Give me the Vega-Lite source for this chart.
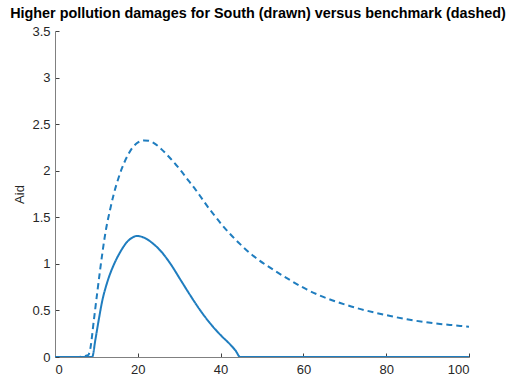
{
  "$schema": "https://vega.github.io/schema/vega-lite/v6.json",
  "autosize": "none",
  "width": 414,
  "height": 326,
  "padding": {"left": 55, "top": 31, "right": 55, "bottom": 24},
  "background": "white",
  "title": {
    "text": "Higher pollution damages for South (drawn) versus benchmark (dashed)",
    "font": "Liberation Sans",
    "fontSize": 14.4,
    "fontWeight": "bold",
    "color": "#000000",
    "anchor": "middle",
    "dx": -4,
    "offset": 4
  },
  "config": {
    "view": {"stroke": null},
    "axis": {
      "grid": false,
      "labelFont": "Liberation Sans",
      "labelFontSize": 13,
      "labelColor": "#262626",
      "titleFont": "Liberation Sans",
      "titleFontSize": 13,
      "titleFontWeight": "normal",
      "titleColor": "#262626",
      "domainColor": "#808080",
      "domainWidth": 1,
      "tickColor": "#404040",
      "tickSize": -4,
      "tickWidth": 1
    }
  },
  "data": {
    "values": [
      {"t": 0, "aid": 0, "series": "South"},
      {"t": 8.97, "aid": 0, "series": "South"},
      {"t": 9.77, "aid": 0.19, "series": "South"},
      {"t": 10.57, "aid": 0.4, "series": "South"},
      {"t": 11.4, "aid": 0.6, "series": "South"},
      {"t": 12.6, "aid": 0.8, "series": "South"},
      {"t": 14.2, "aid": 0.99, "series": "South"},
      {"t": 15.8, "aid": 1.13, "series": "South"},
      {"t": 17.4, "aid": 1.235, "series": "South"},
      {"t": 18.6, "aid": 1.28, "series": "South"},
      {"t": 19.8, "aid": 1.3, "series": "South"},
      {"t": 21, "aid": 1.29, "series": "South"},
      {"t": 22.2, "aid": 1.265, "series": "South"},
      {"t": 23.6, "aid": 1.22, "series": "South"},
      {"t": 25.5, "aid": 1.14, "series": "South"},
      {"t": 27.9, "aid": 1.0, "series": "South"},
      {"t": 30.3, "aid": 0.83, "series": "South"},
      {"t": 32.7, "aid": 0.66, "series": "South"},
      {"t": 35.1, "aid": 0.5, "series": "South"},
      {"t": 37.5, "aid": 0.36, "series": "South"},
      {"t": 39.9, "aid": 0.24, "series": "South"},
      {"t": 42.3, "aid": 0.135, "series": "South"},
      {"t": 43.6, "aid": 0.07, "series": "South"},
      {"t": 44.75, "aid": 0, "series": "South"},
      {"t": 100, "aid": 0, "series": "South"},

      {"t": 0, "aid": 0, "series": "Benchmark"},
      {"t": 5.5, "aid": 0, "series": "Benchmark"},
      {"t": 7, "aid": 0.01, "series": "Benchmark"},
      {"t": 8.0, "aid": 0.02, "series": "Benchmark"},
      {"t": 8.4, "aid": 0.06, "series": "Benchmark"},
      {"t": 9.4, "aid": 0.4, "series": "Benchmark"},
      {"t": 10.2, "aid": 0.69, "series": "Benchmark"},
      {"t": 11, "aid": 0.97, "series": "Benchmark"},
      {"t": 12.2, "aid": 1.34, "series": "Benchmark"},
      {"t": 13.4, "aid": 1.6, "series": "Benchmark"},
      {"t": 14.2, "aid": 1.75, "series": "Benchmark"},
      {"t": 15.4, "aid": 1.93, "series": "Benchmark"},
      {"t": 16.2, "aid": 2.03, "series": "Benchmark"},
      {"t": 17.4, "aid": 2.15, "series": "Benchmark"},
      {"t": 18.6, "aid": 2.24, "series": "Benchmark"},
      {"t": 19.6, "aid": 2.29, "series": "Benchmark"},
      {"t": 20.6, "aid": 2.315, "series": "Benchmark"},
      {"t": 21.6, "aid": 2.325, "series": "Benchmark"},
      {"t": 22.6, "aid": 2.322, "series": "Benchmark"},
      {"t": 23.8, "aid": 2.3, "series": "Benchmark"},
      {"t": 25.5, "aid": 2.24, "series": "Benchmark"},
      {"t": 27.5, "aid": 2.15, "series": "Benchmark"},
      {"t": 29.1, "aid": 2.07, "series": "Benchmark"},
      {"t": 30.7, "aid": 1.985, "series": "Benchmark"},
      {"t": 32.3, "aid": 1.89, "series": "Benchmark"},
      {"t": 33.9, "aid": 1.8, "series": "Benchmark"},
      {"t": 35.5, "aid": 1.7, "series": "Benchmark"},
      {"t": 37.1, "aid": 1.6, "series": "Benchmark"},
      {"t": 38.7, "aid": 1.51, "series": "Benchmark"},
      {"t": 40.3, "aid": 1.42, "series": "Benchmark"},
      {"t": 42.3, "aid": 1.32, "series": "Benchmark"},
      {"t": 44.3, "aid": 1.23, "series": "Benchmark"},
      {"t": 46.2, "aid": 1.15, "series": "Benchmark"},
      {"t": 48.5, "aid": 1.065, "series": "Benchmark"},
      {"t": 52.8, "aid": 0.935, "series": "Benchmark"},
      {"t": 56.8, "aid": 0.825, "series": "Benchmark"},
      {"t": 60.8, "aid": 0.725, "series": "Benchmark"},
      {"t": 64.8, "aid": 0.645, "series": "Benchmark"},
      {"t": 68.9, "aid": 0.58, "series": "Benchmark"},
      {"t": 72.9, "aid": 0.525, "series": "Benchmark"},
      {"t": 76.9, "aid": 0.48, "series": "Benchmark"},
      {"t": 81, "aid": 0.44, "series": "Benchmark"},
      {"t": 85, "aid": 0.405, "series": "Benchmark"},
      {"t": 89, "aid": 0.377, "series": "Benchmark"},
      {"t": 93, "aid": 0.355, "series": "Benchmark"},
      {"t": 96.5, "aid": 0.34, "series": "Benchmark"},
      {"t": 100, "aid": 0.325, "series": "Benchmark"}
    ]
  },
  "mark": {"type": "line", "color": "#1f7dbf", "strokeWidth": 2, "interpolate": "monotone", "clip": true},
  "encoding": {
    "x": {
      "field": "t",
      "type": "quantitative",
      "scale": {"domain": [0, 100], "nice": false},
      "axis": {"title": null, "values": [0, 20, 40, 60, 80, 100], "labelPadding": 10, "format": "d"}
    },
    "y": {
      "field": "aid",
      "type": "quantitative",
      "scale": {"domain": [0, 3.5], "nice": false},
      "axis": {"title": "Aid", "values": [0, 0.5, 1, 1.5, 2, 2.5, 3, 3.5], "format": "~g", "labelPadding": 9, "titlePadding": 5}
    },
    "strokeDash": {
      "field": "series",
      "type": "nominal",
      "scale": {"domain": ["South", "Benchmark"], "range": [[1, 0], [6, 4]]},
      "legend": null
    }
  }
}
